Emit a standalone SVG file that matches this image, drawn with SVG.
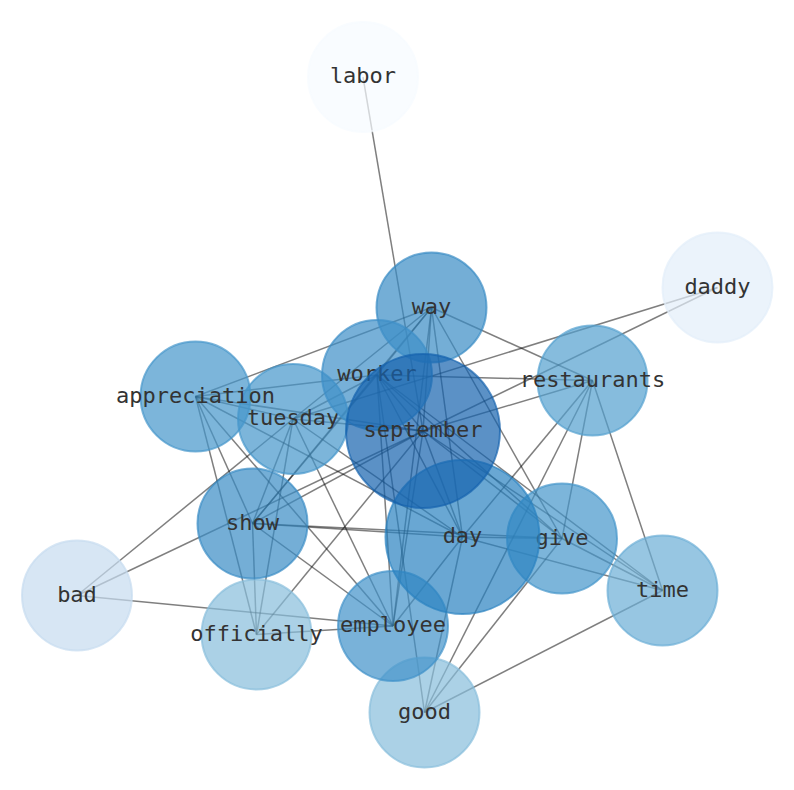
<svg xmlns="http://www.w3.org/2000/svg" width="794" height="790" viewBox="0 0 794 790">
<style>
.n circle{fill-opacity:0.7;stroke-opacity:0.7;stroke-width:2}
.n text{font-family:"DejaVu Sans Mono","Liberation Mono",monospace;font-size:22px;fill:#333;text-anchor:middle}
#edges line{stroke:#000;stroke-opacity:0.5;stroke-width:1.5}
</style>
<rect width="794" height="790" fill="#fff"/>
<g id="edges">
<line x1="363" y1="77" x2="423" y2="431"/>
<line x1="717.5" y1="287.5" x2="293" y2="419"/>
<line x1="717.5" y1="287.5" x2="423" y2="431"/>
<line x1="77" y1="595.5" x2="293" y2="419"/>
<line x1="77" y1="595.5" x2="423" y2="431"/>
<line x1="77" y1="595.5" x2="393" y2="626"/>
<line x1="256.5" y1="634.5" x2="195.5" y2="396.5"/>
<line x1="256.5" y1="634.5" x2="252.5" y2="523.5"/>
<line x1="256.5" y1="634.5" x2="293" y2="419"/>
<line x1="256.5" y1="634.5" x2="423" y2="431"/>
<line x1="256.5" y1="634.5" x2="393" y2="626"/>
<line x1="424.5" y1="712.5" x2="377" y2="375"/>
<line x1="424.5" y1="712.5" x2="462.5" y2="537"/>
<line x1="424.5" y1="712.5" x2="592.5" y2="380.5"/>
<line x1="424.5" y1="712.5" x2="562" y2="538.5"/>
<line x1="424.5" y1="712.5" x2="662.5" y2="590.5"/>
<line x1="662.5" y1="590.5" x2="592.5" y2="380.5"/>
<line x1="662.5" y1="590.5" x2="462.5" y2="537"/>
<line x1="662.5" y1="590.5" x2="377" y2="375"/>
<line x1="662.5" y1="590.5" x2="423" y2="431"/>
<line x1="662.5" y1="590.5" x2="562" y2="538.5"/>
<line x1="431.5" y1="307.5" x2="195.5" y2="396.5"/>
<line x1="431.5" y1="307.5" x2="592.5" y2="380.5"/>
<line x1="431.5" y1="307.5" x2="562" y2="538.5"/>
<line x1="431.5" y1="307.5" x2="423" y2="431"/>
<line x1="431.5" y1="307.5" x2="377" y2="375"/>
<line x1="431.5" y1="307.5" x2="293" y2="419"/>
<line x1="431.5" y1="307.5" x2="252.5" y2="523.5"/>
<line x1="431.5" y1="307.5" x2="462.5" y2="537"/>
<line x1="431.5" y1="307.5" x2="393" y2="626"/>
<line x1="592.5" y1="380.5" x2="377" y2="375"/>
<line x1="592.5" y1="380.5" x2="423" y2="431"/>
<line x1="592.5" y1="380.5" x2="462.5" y2="537"/>
<line x1="592.5" y1="380.5" x2="562" y2="538.5"/>
<line x1="195.5" y1="396.5" x2="377" y2="375"/>
<line x1="195.5" y1="396.5" x2="252.5" y2="523.5"/>
<line x1="195.5" y1="396.5" x2="423" y2="431"/>
<line x1="195.5" y1="396.5" x2="293" y2="419"/>
<line x1="195.5" y1="396.5" x2="393" y2="626"/>
<line x1="195.5" y1="396.5" x2="462.5" y2="537"/>
<line x1="252.5" y1="523.5" x2="462.5" y2="537"/>
<line x1="252.5" y1="523.5" x2="562" y2="538.5"/>
<line x1="252.5" y1="523.5" x2="423" y2="431"/>
<line x1="252.5" y1="523.5" x2="377" y2="375"/>
<line x1="252.5" y1="523.5" x2="293" y2="419"/>
<line x1="252.5" y1="523.5" x2="393" y2="626"/>
<line x1="293" y1="419" x2="423" y2="431"/>
<line x1="293" y1="419" x2="377" y2="375"/>
<line x1="293" y1="419" x2="393" y2="626"/>
<line x1="293" y1="419" x2="462.5" y2="537"/>
<line x1="377" y1="375" x2="423" y2="431"/>
<line x1="377" y1="375" x2="462.5" y2="537"/>
<line x1="377" y1="375" x2="562" y2="538.5"/>
<line x1="377" y1="375" x2="393" y2="626"/>
<line x1="423" y1="431" x2="462.5" y2="537"/>
<line x1="423" y1="431" x2="562" y2="538.5"/>
<line x1="423" y1="431" x2="393" y2="626"/>
<line x1="462.5" y1="537" x2="562" y2="538.5"/>
<line x1="462.5" y1="537" x2="393" y2="626"/>
</g>
<g id="node-labor" class="n"><circle cx="363" cy="77" r="55" fill="#f7fbff" stroke="#f7fbff"/><text x="363" y="83">labor</text></g>
<g id="node-daddy" class="n"><circle cx="717.5" cy="287.5" r="55" fill="#e3eef9" stroke="#e3eef9"/><text x="717.5" y="293.5">daddy</text></g>
<g id="node-bad" class="n"><circle cx="77" cy="595.5" r="55" fill="#c6dbef" stroke="#c6dbef"/><text x="77" y="601.5">bad</text></g>
<g id="node-good" class="n"><circle cx="424.5" cy="712.5" r="55" fill="#88bedc" stroke="#88bedc"/><text x="424.5" y="718.5">good</text></g>
<g id="node-officially" class="n"><circle cx="256.5" cy="634.5" r="55" fill="#88bedc" stroke="#88bedc"/><text x="256.5" y="640.5">officially</text></g>
<g id="node-time" class="n"><circle cx="662.5" cy="590.5" r="55" fill="#6baed6" stroke="#6baed6"/><text x="662.5" y="596.5">time</text></g>
<g id="node-restaurants" class="n"><circle cx="592.5" cy="380.5" r="55" fill="#529fce" stroke="#529fce"/><text x="592.5" y="386.5">restaurants</text></g>
<g id="node-give" class="n"><circle cx="562" cy="538.5" r="55" fill="#4595ca" stroke="#4595ca"/><text x="562" y="544.5">give</text></g>
<g id="node-tuesday" class="n"><circle cx="293" cy="419" r="55" fill="#4595ca" stroke="#4595ca"/><text x="293" y="425">tuesday</text></g>
<g id="node-appreciation" class="n"><circle cx="195.5" cy="396.5" r="55" fill="#4595ca" stroke="#4595ca"/><text x="195.5" y="402.5">appreciation</text></g>
<g id="node-show" class="n"><circle cx="252.5" cy="523.5" r="55" fill="#398bc5" stroke="#398bc5"/><text x="252.5" y="529.5">show</text></g>
<g id="node-employee" class="n"><circle cx="393" cy="626" r="55" fill="#4091c9" stroke="#4091c9"/><text x="393" y="632">employee</text></g>
<g id="node-way" class="n"><circle cx="431.5" cy="307.5" r="55" fill="#398bc5" stroke="#398bc5"/><text x="431.5" y="313.5">way</text></g>
<g id="node-worker" class="n"><circle cx="377" cy="375" r="55" fill="#3d8ec7" stroke="#3d8ec7"/><text x="377" y="381">worker</text></g>
<g id="node-day" class="n"><circle cx="462.5" cy="537" r="77" fill="#2a82c0" stroke="#2a82c0"/><text x="462.5" y="543">day</text></g>
<g id="node-september" class="n"><circle cx="423" cy="431" r="77" fill="#1563ae" stroke="#1563ae"/><text x="423" y="437">september</text></g>
</svg>
